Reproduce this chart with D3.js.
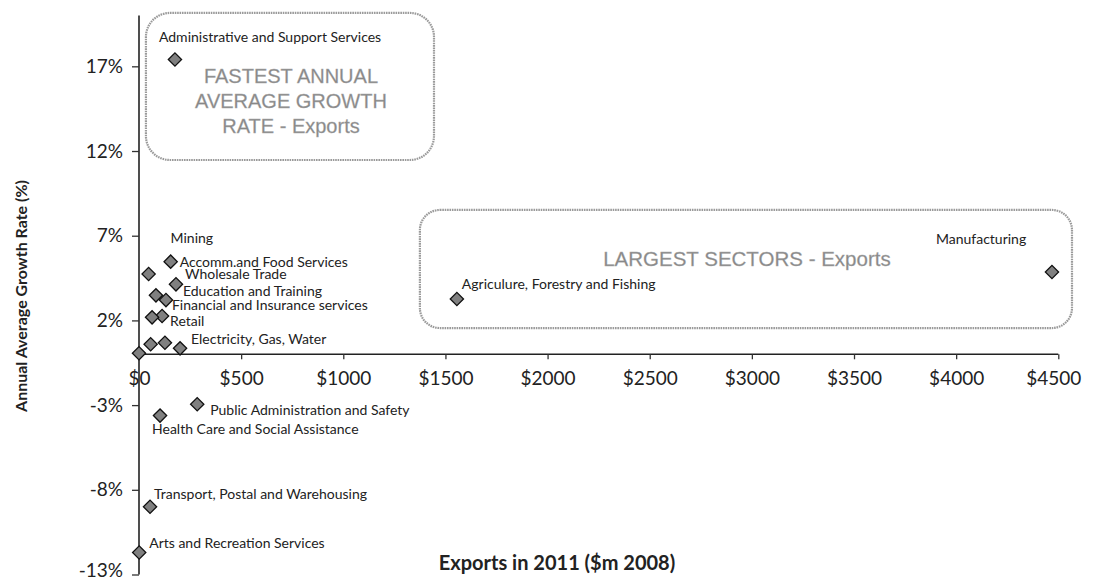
<!DOCTYPE html>
<html>
<head>
<meta charset="utf-8">
<script src="https://cdn.jsdelivr.net/npm/d3@7/dist/d3.min.js"></script>
<style>
  html, body { margin: 0; padding: 0; background: #fff; }
  svg { display: block; }
</style>
</head>
<body>
<svg id="chart" width="1094" height="583"></svg>
<script>
// Industry sectors: exports in 2011 ($m, 2008 prices) vs annual average growth rate (%)
const sectors = [
  "Administrative and Support Services",
  "Mining",
  "Accomm.and Food Services",
  "Wholesale Trade",
  "Education and Training",
  "Financial and Insurance services",
  "Retail",
  "Electricity, Gas, Water",
  "Public Administration and Safety",
  "Health Care and Social Assistance",
  "Transport, Postal and Warehousing",
  "Arts and Recreation Services",
  "Agriculure, Forestry and Fishing",
  "Manufacturing",
  "", "", "", ""
];
const exports2011 = [176, 47, 155, 83, 181, 132, 113, 201, 285, 103, 54, 1, 1556, 4469, 64, 57, 127, 0];
const growthRate  = [17.4, 4.74, 5.47, 3.48, 4.13, 3.2, 2.26, 0.35, -2.95, -3.62, -9.0, -11.7, 3.26, 4.86, 2.18, 0.59, 0.68, 0.06];

const xTicks = [0, 500, 1000, 1500, 2000, 2500, 3000, 3500, 4000, 4500];
const yTicks = [-13, -8, -3, 2, 7, 12, 17];

// Highlight boxes in data units: [x0, x1, y0, y1]
const boxNames = ["FASTEST ANNUAL|AVERAGE GROWTH|RATE - Exports", "LARGEST SECTORS - Exports"];
const boxExtents = [[34, 1444, 11.47, 20.15], [1375, 4567, 1.55, 8.52]];

// Label placement relative to each marker (pixels)
const labelOffsets = {
  "Administrative and Support Services": [-16, -23],
  "Mining": [22, -36],
  "Accomm.and Food Services": [9, 0],
  "Wholesale Trade": [29, -22],
  "Education and Training": [7, 6],
  "Financial and Insurance services": [6, 4],
  "Retail": [8, 4],
  "Electricity, Gas, Water": [11, -10],
  "Public Administration and Safety": [13, 5],
  "Health Care and Social Assistance": [-8, 13],
  "Transport, Postal and Warehousing": [4, -13],
  "Arts and Recreation Services": [10, -10],
  "Agriculure, Forestry and Fishing": [5, -16],
  "Manufacturing": [-116, -33]
};

const svg = d3.select("#chart");
const FONT = "Lato, 'Noto Sans', sans-serif";

const x = d3.scaleLinear().domain([0, 4500]).range([139, 1058.3]);
const y = d3.scaleLinear().domain([-13, 20]).range([574.5, 15.5]);

// Highlight boxes
const boxes = svg.append("g");
boxExtents.forEach((b, i) => {
  const x0 = x(b[0]), x1 = x(b[1]), y0 = y(b[3]), y1 = y(b[2]);
  boxes.append("rect")
    .attr("x", x0).attr("y", y0)
    .attr("width", x1 - x0).attr("height", y1 - y0)
    .attr("rx", i === 0 ? 24 : 20).attr("ry", i === 0 ? 24 : 20)
    .attr("fill", "none")
    .attr("stroke", "#9a9a9a")
    .attr("stroke-width", 2.2)
    .attr("stroke-dasharray", "1.6 0.8");
  const lines = boxNames[i].split("|");
  const cx = (x0 + x1) / 2;
  const lh = 25;
  const cy = i === 0 ? y0 + 63 : y0 + 49;
  lines.forEach((t, j) => {
    boxes.append("text")
      .attr("x", cx + 1)
      .attr("y", cy + j * lh)
      .attr("text-anchor", "middle")
      .attr("dominant-baseline", "central")
      .attr("font-family", "'Liberation Sans', Arial, sans-serif")
      .attr("font-size", i === 0 ? 20 : 20.5)
      .attr("fill", "#888")
      .attr("stroke", "#aaa")
      .attr("stroke-width", 0.3)
      .text(t);
  });
});

// Y axis (at x = 0)
const yAxis = svg.append("g")
  .attr("transform", `translate(${x(0)},0)`)
  .call(d3.axisLeft(y).tickValues(yTicks).tickSize(7).tickPadding(9)
    .tickFormat(d => d + "%"));
yAxis.select(".domain").attr("stroke", "#222").attr("stroke-width", 1.6)
  .attr("d", `M0,${y(20)}V${y(-13)}`);
yAxis.selectAll(".tick line").attr("stroke", "#333").attr("stroke-width", 1.3);
yAxis.selectAll(".tick text")
  .attr("font-family", FONT).attr("font-size", 19).attr("fill", "#222")
  .attr("dy", d => d === -13 ? "0.12em" : "0.32em");

// X axis (at y = 0)
const xAxis = svg.append("g")
  .attr("transform", `translate(0,${y(0)})`)
  .call(d3.axisBottom(x).tickValues(xTicks).tickSize(5).tickPadding(12)
    .tickFormat(d => "$" + d));
xAxis.select(".domain").attr("stroke", "#222").attr("stroke-width", 1.6)
  .attr("d", `M${x(0)},0H${x(4500)}`);
xAxis.selectAll(".tick line").attr("stroke", "#333").attr("stroke-width", 1.3);
xAxis.selectAll(".tick text")
  .attr("font-family", FONT).attr("font-size", 19).attr("fill", "#222")
  .attr("dx", d => d === 4500 ? -5 : 0);

// Axis titles
svg.append("text")
  .attr("x", 557).attr("y", 562)
  .attr("text-anchor", "middle").attr("dominant-baseline", "central")
  .attr("font-family", FONT).attr("font-weight", "bold").attr("font-size", 20)
  .attr("fill", "#222")
  .text("Exports in 2011 ($m 2008)");
svg.append("text")
  .attr("transform", "translate(20,296) rotate(-90)")
  .attr("text-anchor", "middle").attr("dominant-baseline", "central")
  .attr("font-family", FONT).attr("font-weight", "bold").attr("font-size", 16)
  .attr("fill", "#222")
  .text("Annual Average Growth Rate (%)");

// Markers
const pts = sectors.map((s, i) => ({ name: s, ex: exports2011[i], gr: growthRate[i] }));
const diamond = d3.symbol().type(d3.symbolSquare).size(88);
svg.append("g").selectAll("path")
  .data(pts)
  .join("path")
  .attr("d", diamond)
  .attr("transform", d => `translate(${x(d.ex)},${y(d.gr)}) rotate(45)`)
  .attr("fill", "#808080")
  .attr("stroke", "#111")
  .attr("stroke-width", 1.3);

// Data labels
svg.append("g").selectAll("text")
  .data(pts.filter(d => d.name))
  .join("text")
  .attr("x", d => x(d.ex) + labelOffsets[d.name][0])
  .attr("y", d => y(d.gr) + labelOffsets[d.name][1])
  .attr("dominant-baseline", "central")
  .attr("font-family", FONT).attr("font-size", 14).attr("fill", "#222")
  .text(d => d.name);
</script>
</body>
</html>
